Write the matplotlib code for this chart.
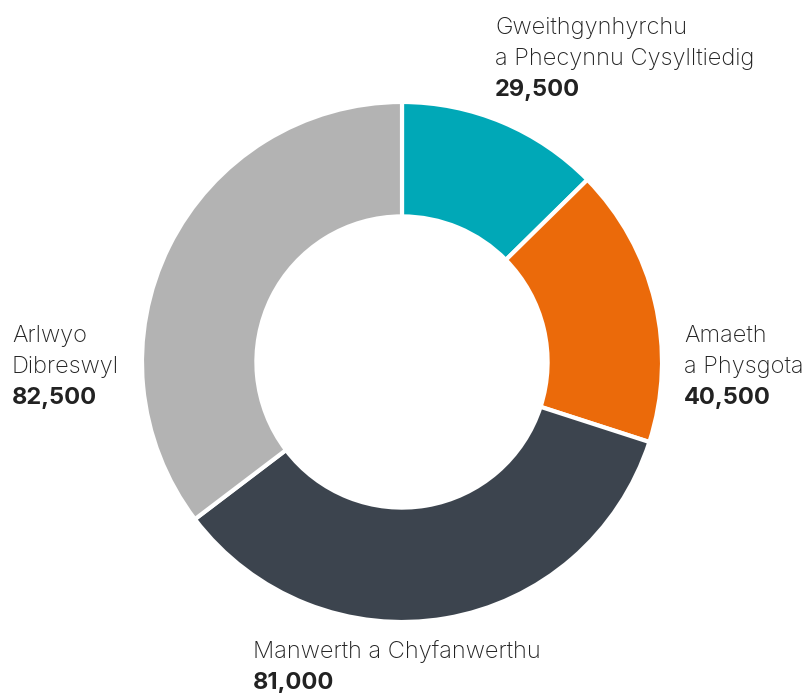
import matplotlib
matplotlib.use("Agg")
import matplotlib.pyplot as plt

labels = ["Gweithgynhyrchu\na Phecynnu Cysylltiedig", "Amaeth\na Physgota",
          "Manwerth a Chyfanwerthu", "Arlwyo\nDibreswyl"]
values = [29500, 40500, 81000, 82500]
colors = ["#00A8B7", "#EB6A0A", "#3C444E", "#B3B3B3"]

W, H = 807, 693
fig = plt.figure(figsize=(W / 100, H / 100), dpi=100)
ax = fig.add_axes([0, 0, 1, 1])

cx, cy, r = 402, H - 362, 260
ax.pie(values, colors=colors, startangle=90, counterclock=False,
       center=(cx, cy), radius=r, frame=True,
       wedgeprops=dict(width=r * 0.44, edgecolor="white", linewidth=3))
ax.set_xlim(0, W)
ax.set_ylim(0, H)
ax.set_aspect("equal")
ax.axis("off")

# label anchor: (x, baseline of first line) in pixels from top-left
anchors = [(495, 34), (684, 342), (253, 658), (12, 342)]
line_h = 31
txt_color = "#222222"
for lab, val, (x, y) in zip(labels, values, anchors):
    lines = lab.split("\n")
    for i, ln in enumerate(lines):
        ax.text(x, H - (y + i * line_h), ln, fontsize=17, family="Inter",
                fontweight="light", color=txt_color, va="baseline", ha="left")
    ax.text(x, H - (y + len(lines) * line_h), f"{val:,}", fontsize=17,
            family="Inter", fontweight="bold", color=txt_color,
            va="baseline", ha="left")

fig.savefig("out.png", dpi=100)
